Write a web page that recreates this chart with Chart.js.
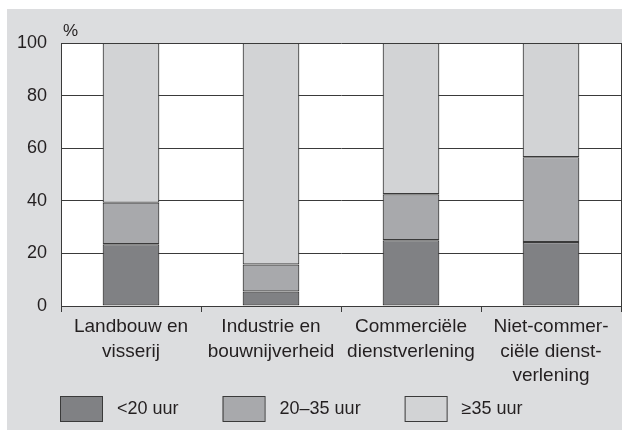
<!DOCTYPE html>
<html>
<head>
<meta charset="utf-8">
<script src="https://cdn.jsdelivr.net/npm/chart.js@4/dist/chart.umd.min.js"></script>
<style>
  html,body{margin:0;padding:0;background:#fff;}
  canvas{display:block;}
</style>
</head>
<body>
<canvas id="chart" width="625" height="436"></canvas>
<script>
// data (percent of workers per sector)
const categories = [
  ['Landbouw en','visserij'],
  ['Industrie en','bouwnijverheid'],
  ['Commerciële','dienstverlening'],
  ['Niet-commer-','ciële dienst-','verlening']
];
const seriesLabels = ['<20 uur','20–35 uur','≥35 uur'];
const under20 = [23.5, 5.5, 25.0, 24.3];
const from20to35 = [15.8, 10.3, 17.5, 32.3];
const over35 = [60.7, 84.2, 57.5, 43.4];
const yTicks = [0, 20, 40, 60, 80, 100];

const FONT = '"Liberation Sans", Arial, Helvetica, sans-serif';
const INK = '#231f20';
const LINE = '#3a3a3a';
const FILLS = ['#808184','#a8a9ac','#d2d3d5'];
const PANEL = '#dcdddf';

// grey panel behind everything
const panelBg = {
  id:'panelBg',
  beforeDraw(chart){
    const ctx=chart.ctx;
    ctx.save();
    ctx.fillStyle=PANEL;
    ctx.fillRect(7,9,615,421);
    ctx.fillStyle='#fff';
    const a=chart.chartArea;
    ctx.fillRect(a.left,a.top,a.right-a.left,a.bottom-a.top);
    ctx.restore();
  }
};

// "%" unit label and the legend row at the bottom
const extras = {
  id:'extras',
  afterDraw(chart){
    const ctx=chart.ctx, a=chart.chartArea;
    ctx.save();
    ctx.fillStyle=INK;
    ctx.font='17px '+FONT;
    ctx.textAlign='left'; ctx.textBaseline='middle';
    ctx.fillText('%', a.left+2, a.top-12);

    ctx.font='18px '+FONT;
    let x=60; const y=396, bw=42, bh=25;
    chart.data.datasets.forEach(ds=>{
      ctx.fillStyle=ds.backgroundColor;
      ctx.fillRect(x,y,bw,bh);
      ctx.strokeStyle=LINE; ctx.lineWidth=1;
      ctx.strokeRect(x+0.5,y+0.5,bw,bh);
      ctx.fillStyle=INK;
      ctx.fillText(ds.label, x+bw+15, y+bh/2+1);
      x += bw+15+ctx.measureText(ds.label).width+44;
    });
    ctx.restore();
  }
};

const mk=(label,data,i)=>({
  label, data,
  backgroundColor:FILLS[i],
  borderColor:LINE, borderWidth:1.2, borderSkipped:false,
  barPercentage:0.405, categoryPercentage:1
});

new Chart(document.getElementById('chart').getContext('2d'),{
  type:'bar',
  data:{
    labels:categories,
    datasets:[
      mk(seriesLabels[0],under20,0),
      mk(seriesLabels[1],from20to35,1),
      mk(seriesLabels[2],over35,2)
    ]
  },
  options:{
    responsive:false, animation:false, devicePixelRatio:1,
    layout:{padding:{top:43,left:0,right:0,bottom:0}},
    plugins:{legend:{display:false},tooltip:{enabled:false}},
    scales:{
      x:{
        stacked:true,
        grid:{display:true,drawOnChartArea:false,drawTicks:true,tickLength:6,offset:true,color:LINE,lineWidth:1},
        border:{display:true,color:LINE,width:1},
        ticks:{font:{family:FONT,size:19,lineHeight:1.28},color:INK,padding:3,maxRotation:0,autoSkip:false},
        afterFit:s=>{s.height=130;}
      },
      y:{
        stacked:true, min:0, max:100,
        afterBuildTicks:s=>{s.ticks=yTicks.map(v=>({value:v}));},
        grid:{color:LINE,lineWidth:1,drawTicks:false},
        border:{display:true,color:LINE,width:1},
        ticks:{font:{family:FONT,size:18},color:INK,padding:14},
        afterFit:s=>{s.width=61;}
      },
      y2:{
        position:'right', min:0, max:100,
        grid:{display:false},
        ticks:{display:false},
        border:{display:true,color:LINE,width:1},
        afterFit:s=>{s.width=4;}
      }
    }
  },
  plugins:[panelBg,extras]
});
</script>
</body>
</html>
